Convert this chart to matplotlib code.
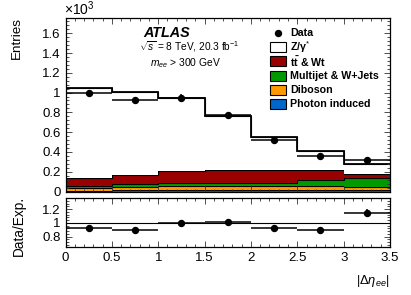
import numpy as np
import matplotlib
matplotlib.use("Agg")
import matplotlib.pyplot as plt
from matplotlib.patches import Rectangle
from matplotlib.ticker import MultipleLocator, FormatStrFormatter

plt.rcParams['font.family'] = ['Liberation Sans', 'DejaVu Sans']
plt.rcParams['mathtext.fontset'] = 'custom'
plt.rcParams['mathtext.rm'] = 'Liberation Sans'
plt.rcParams['mathtext.it'] = 'Liberation Sans:italic'
plt.rcParams['mathtext.bf'] = 'Liberation Sans:bold'

# bins in |delta eta_ee|
edges = [0.0, 0.5, 1.0, 1.5, 2.0, 2.5, 3.0, 3.5]
centers = [0.25, 0.75, 1.25, 1.75, 2.25, 2.75, 3.25]

# entries (x10^3)
data = [0.997, 0.923, 0.950, 0.770, 0.524, 0.361, 0.320]
data_err = [0.032, 0.030, 0.031, 0.028, 0.023, 0.019, 0.018]

photon = [0.010, 0.012, 0.015, 0.015, 0.015, 0.015, 0.012]
diboson = [0.030, 0.037, 0.041, 0.041, 0.041, 0.044, 0.034]
multijet = [0.018, 0.027, 0.029, 0.027, 0.027, 0.055, 0.094]
ttbar = [0.082, 0.091, 0.123, 0.137, 0.133, 0.106, 0.038]
zgamma = [0.910, 0.843, 0.737, 0.545, 0.339, 0.185, 0.102]

# ratio panel
ratio = [0.932, 0.900, 1.000, 1.015, 0.932, 0.890, 1.150]
ratio_err = [0.030, 0.030, 0.033, 0.037, 0.042, 0.045, 0.055]

W, H = 411, 295
fig = plt.figure(figsize=(W / 100, H / 100), dpi=100)
ax = fig.add_axes([65.5 / W, 1 - 191.5 / H, 324.5 / W, 173.8 / H])
rax = fig.add_axes([65.5 / W, 1 - 246.7 / H, 324.5 / W, 48.7 / H])

# stacked backgrounds, bottom to top
stack = [
    (photon, '#0066cc', 'Photon induced'),
    (diboson, '#ff9900', 'Diboson'),
    (multijet, '#009900', 'Multijet & W+Jets'),
    (ttbar, '#990000', r'$\mathbf{t\bar{t}}$ & Wt'),
    (zgamma, 'white', 'Z/\u03b3$^{*}$'),
]
base = np.zeros(len(centers))
for vals, col, lab in stack:
    top = base + np.array(vals)
    ax.stairs(top, edges, baseline=base, fill=True, color=col, lw=0)
    ax.stairs(top, edges, baseline=None, color='black', lw=0.8)
    base = top
ax.stairs(base, edges, baseline=None, color='black', lw=1.3)

ax.errorbar(centers, data, xerr=0.25, yerr=data_err, fmt='o', color='black',
            ms=4.3, elinewidth=1.1, capsize=0)

ax.set_xlim(0, 3.5)
ax.set_ylim(0, 1.757)
ax.yaxis.set_major_locator(MultipleLocator(0.2))
ax.yaxis.set_minor_locator(MultipleLocator(0.04))
ax.yaxis.set_major_formatter(FormatStrFormatter('%g'))
ax.tick_params(labelbottom=False)

rax.axhline(1.0, color='black', lw=0.8)
rax.errorbar(centers, ratio, xerr=0.25, yerr=ratio_err, fmt='o', color='black',
             ms=4.3, elinewidth=1.1, capsize=0)
rax.set_xlim(0, 3.5)
rax.set_ylim(0.655, 1.36)
rax.yaxis.set_major_locator(MultipleLocator(0.2))
rax.yaxis.set_minor_locator(MultipleLocator(0.04))
rax.yaxis.set_major_formatter(FormatStrFormatter('%g'))
rax.xaxis.set_major_formatter(FormatStrFormatter('%g'))

for a in (ax, rax):
    a.xaxis.set_major_locator(MultipleLocator(0.5))
    a.xaxis.set_minor_locator(MultipleLocator(0.1))
    a.tick_params(which='both', direction='in', top=True, right=True,
                  labelsize=9.5, width=0.6, color='#333333')
    a.tick_params(which='major', length=4.5)
    a.tick_params(which='minor', length=2.3)
    for s in a.spines.values():
        s.set_linewidth(0.9)

# axis titles
fig.text(17 / W, 1 - 17 / H, 'Entries', rotation=90, ha='center', va='top', fontsize=9.7)
fig.text(19 / W, 1 - 196 / H, 'Data/Exp.', rotation=90, ha='center', va='top', fontsize=9.8)
fig.text(390 / W, 1 - 281 / H, r'$|\Delta\eta_{ee}|$', ha='right', va='center', fontsize=9.3)
fig.text(64 / W, 1 - 18 / H, r'$\times10^{3}$', ha='left', va='bottom', fontsize=10)

# labels
fig.text(143 / W, 1 - 33 / H, 'ATLAS', fontsize=10.4, fontweight='bold', style='italic',
         ha='left', va='center')
fig.text(139 / W, 1 - 47 / H, r'$\sqrt{s}$ = 8 TeV, 20.3 fb$^{-1}$', fontsize=7.3,
         ha='left', va='center')
fig.text(150 / W, 1 - 63 / H, r'$m_{ee}$ > 300 GeV', fontsize=7.4, ha='left', va='center')

# legend drawn by hand
rows = [('Data', None)] + [(lab, col) for vals, col, lab in stack[::-1]]
for i, (lab, col) in enumerate(rows):
    yc = 33 + 14.2 * i
    if col is None:
        fig.lines.append(plt.Line2D([278 / W], [1 - yc / H], marker='o', ms=4.3,
                                    color='black', transform=fig.transFigure))
    else:
        fig.patches.append(Rectangle((270 / W, 1 - (yc + 5) / H), 16 / W, 10 / H,
                                     facecolor=col, edgecolor='black', lw=0.8,
                                     transform=fig.transFigure))
    fig.text(290 / W, 1 - yc / H, lab, fontsize=7.7, fontweight='bold',
             ha='left', va='center')

fig.savefig('out.png', dpi=100)
